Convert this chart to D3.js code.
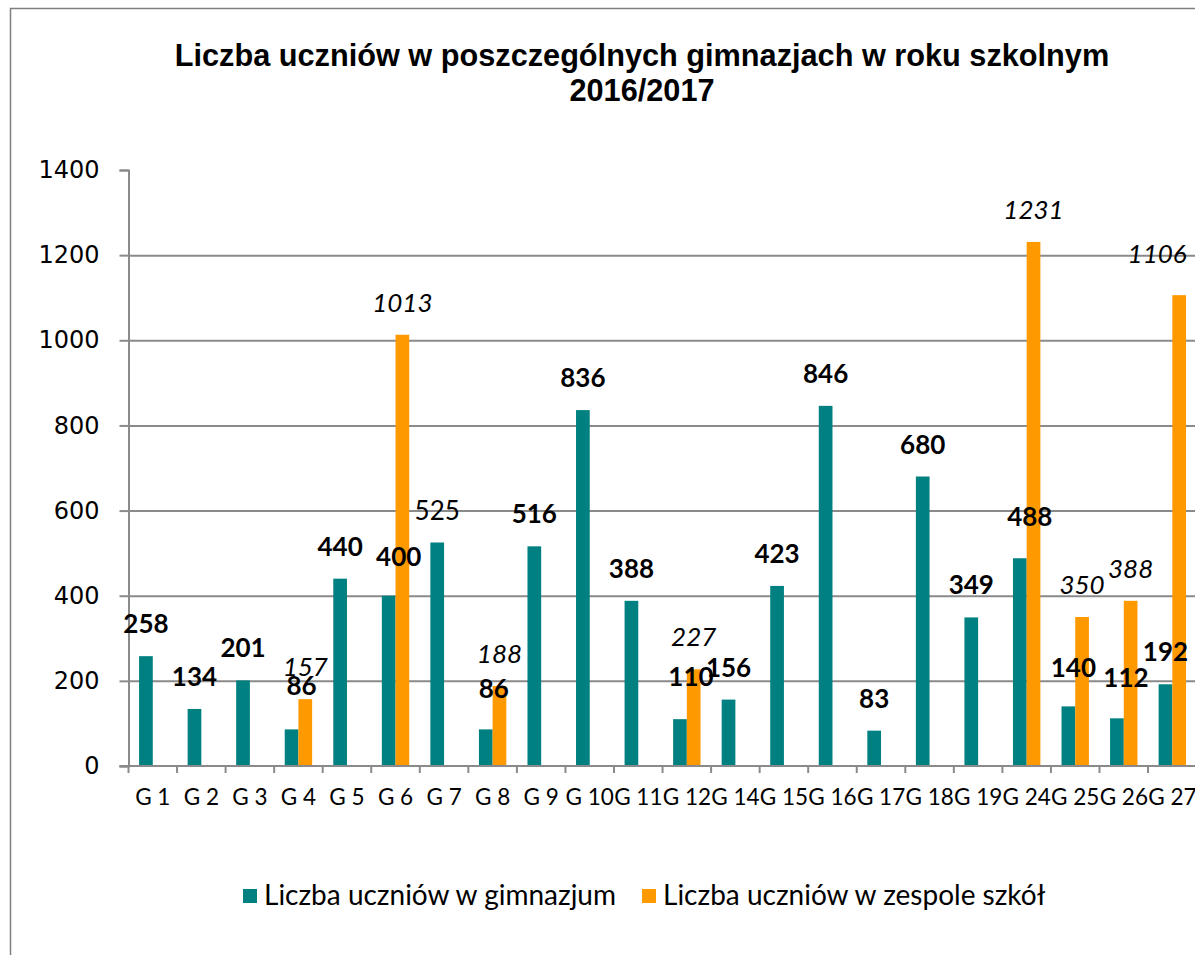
<!DOCTYPE html>
<html>
<head>
<meta charset="utf-8">
<script src="https://cdn.jsdelivr.net/npm/d3@7"></script>
<style>
  html, body { margin: 0; padding: 0; background: #fff; }
  svg { display: block; }
</style>
</head>
<body>
<svg id="chart" width="1195" height="955"></svg>
<script>
"use strict";

// data
const categories = ['G 1', 'G 2', 'G 3', 'G 4', 'G 5', 'G 6', 'G 7', 'G 8', 'G 9', 'G 10', 'G 11',
  'G 12', 'G 14', 'G 15', 'G 16', 'G 17', 'G 18', 'G 19', 'G 24', 'G 25', 'G 26', 'G 27'];
const gimnazjum = [258, 134, 201, 86, 440, 400, 525, 86, 516, 836, 388, 110, 156, 423, 846, 83, 680, 349, 488, 140, 112, 192];
const zespol = [null, null, null, 157, null, 1013, null, 188, null, null, null, 227, null, null, null, null, null, null, 1231, 350, 388, 1106];
const yTicks = [0, 200, 400, 600, 800, 1000, 1200, 1400];
const seriesNames = ['Liczba uczniów w gimnazjum', 'Liczba uczniów w zespole szkół'];
const titleLines = ['Liczba uczniów w poszczególnych gimnazjach w roku szkolnym', '2016/2017'];

const TEAL = '#008080';
const ORANGE = '#ff9900';
const GRID = '#8a8a8a';

// hand-moved labels (like in the source spreadsheet)
const labelNudge = {
  'G 4|g': [10, -11], 'G 6|g': [10, -7], 'G 8|g': [8, -8], 'G 12|g': [11, -10],
  'G 24|g': [10, -9], 'G 25|g': [5, -6], 'G 26|g': [9, -8], 'G 27|z': [-22, -9]
};
const plainLabels = { 'G 7|g': true };

const svg = d3.select('#chart');

// outer frame
svg.append('path')
  .attr('d', 'M10.5,960 V8.5 H1200')
  .attr('fill', 'none').attr('stroke', '#7f7f7f').attr('stroke-width', 1.5);

// title
svg.append('g').selectAll('text').data(titleLines).enter().append('text')
  .attr('x', 642).attr('y', (d, i) => 66 + i * 35)
  .attr('text-anchor', 'middle')
  .attr('font-family', "'Liberation Sans', Arial, sans-serif")
  .attr('font-weight', 'bold').attr('font-size', '30.7px')
  .attr('fill', '#000')
  .text(d => d);

const x0 = 128.5, step = 48.55;
const x = d3.scaleBand().domain(categories).range([x0, x0 + step * categories.length]).padding(0);
const barW = 13.7;
const xs = d3.scaleBand().domain(['g', 'z'])
  .range([x.bandwidth() / 2 - barW, x.bandwidth() / 2 + barW]).padding(0);
const y = d3.scaleLinear().domain([0, 1400]).range([766, 170]);

// gridlines
svg.append('g').attr('transform', 'translate(' + x0 + ',0)')
  .call(d3.axisLeft(y).tickValues(yTicks.slice(1, -1)).tickSize(-(1200 - x0)).tickFormat(''))
  .call(g => g.select('.domain').remove())
  .call(g => g.selectAll('line').attr('stroke', GRID).attr('stroke-width', 2));

// y axis
svg.append('g').attr('transform', 'translate(' + x0 + ',0)')
  .call(d3.axisLeft(y).tickValues(yTicks).tickSize(9).tickPadding(20).tickFormat(d3.format('d')))
  .call(g => g.select('.domain').attr('stroke', GRID).attr('stroke-width', 2))
  .call(g => g.selectAll('line').attr('stroke', GRID).attr('stroke-width', 2))
  .call(g => g.selectAll('text')
    .attr('font-family', "'DejaVu Sans', Verdana, sans-serif")
    .attr('font-size', '24px').attr('fill', '#000'));

// bars
const rows = categories.map((c, i) => ({ cat: c, g: gimnazjum[i], z: zespol[i] }));
const bars = [];
rows.forEach(r => {
  bars.push({ cat: r.cat, key: 'g', v: r.g });
  if (r.z != null) bars.push({ cat: r.cat, key: 'z', v: r.z });
});

svg.append('g').selectAll('rect').data(bars).enter().append('rect')
  .attr('x', d => x(d.cat) + xs(d.key))
  .attr('y', d => y(d.v))
  .attr('width', xs.bandwidth())
  .attr('height', d => y(0) - y(d.v))
  .attr('fill', d => d.key === 'g' ? TEAL : ORANGE);

// x axis line + boundary ticks
svg.append('line')
  .attr('x1', x0 - 9).attr('x2', 1200).attr('y1', y(0)).attr('y2', y(0))
  .attr('stroke', GRID).attr('stroke-width', 2);
svg.append('g').selectAll('line').data(categories).enter().append('line')
  .attr('x1', d => x(d)).attr('x2', d => x(d))
  .attr('y1', y(0)).attr('y2', y(0) + 7)
  .attr('stroke', GRID).attr('stroke-width', 2);

svg.append('g').attr('transform', 'translate(0,' + y(0) + ')')
  .call(d3.axisBottom(x).tickSize(0).tickPadding(23))
  .call(g => g.select('.domain').remove())
  .call(g => g.selectAll('text')
    .attr('font-family', "Lato, 'Open Sans', sans-serif")
    .attr('font-size', '22.5px').attr('fill', '#000'));

// value labels
svg.append('g').selectAll('text').data(bars).enter().append('text')
  .attr('x', d => {
    const n = labelNudge[d.cat + '|' + d.key];
    return x(d.cat) + xs(d.key) + xs.bandwidth() / 2 + (n ? n[0] : 0);
  })
  .attr('y', d => {
    const n = labelNudge[d.cat + '|' + d.key];
    return y(d.v) - 23 + (n ? n[1] : 0);
  })
  .attr('text-anchor', 'middle')
  .attr('font-family', "Lato, 'Open Sans', sans-serif")
  .attr('font-size', '26px')
  .attr('font-weight', d => d.key === 'g' && !plainLabels[d.cat + '|' + d.key] ? 'bold' : 'normal')
  .attr('font-style', d => d.key === 'z' ? 'italic' : 'normal')
  .attr('fill', '#000')
  .text(d => d.v);

// legend
const legend = svg.append('g').attr('transform', 'translate(243,889)');
let lx = 0;
seriesNames.forEach((name, i) => {
  const item = legend.append('g').attr('transform', 'translate(' + lx + ',0)');
  item.append('rect').attr('width', 14).attr('height', 14).attr('fill', i === 0 ? TEAL : ORANGE);
  const t = item.append('text').attr('x', 21).attr('y', 16)
    .attr('font-family', "Lato, 'Open Sans', sans-serif")
    .attr('font-size', '28px').attr('fill', '#000')
    .text(name);
  lx += 21 + t.node().getComputedTextLength() + 26;
});
</script>
</body>
</html>
